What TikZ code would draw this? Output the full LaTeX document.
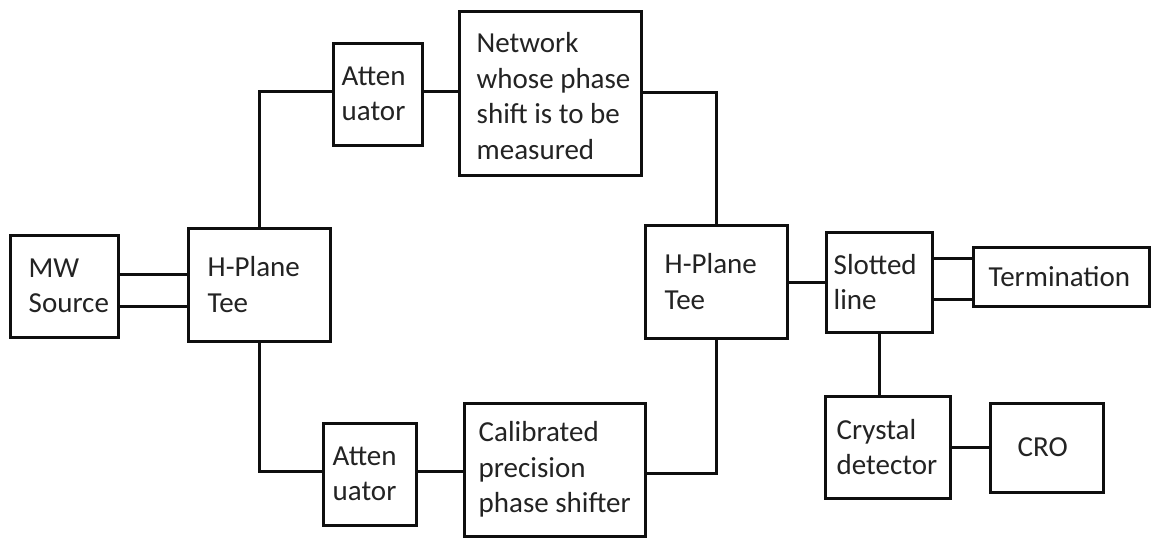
\documentclass[tikz,border=0pt]{standalone}
\usepackage{fontspec}
\setmainfont{Carlito}
\definecolor{ink}{RGB}{15,15,15}
\definecolor{txt}{RGB}{35,35,35}
\begin{document}
\begin{tikzpicture}[x=1pt,y=-1pt,
  box/.style={draw=ink, line width=3pt, rectangle, inner sep=0pt, fill=white},
  lbl/.style={inner sep=0pt, align=left, text=txt, anchor=west,
              font=\fontsize{29}{35.5}\selectfont},
  wire/.style={draw=ink, line width=3pt}]
\useasboundingbox (0,0) rectangle (1151,538);
\fill[white] (0,0) rectangle (1151,538);

% blocks
\node[box, minimum width=108, minimum height=102] (mw)    at (64,286)     {};
\node[box, minimum width=142, minimum height=113] (ltee)  at (259,284.5)  {};
\node[box, minimum width=89,  minimum height=102] (attt)  at (377.5,94)   {};
\node[box, minimum width=182, minimum height=164] (net)   at (550,93)     {};
\node[box, minimum width=142, minimum height=113] (rtee)  at (716,281.5)  {};
\node[box, minimum width=106, minimum height=100] (slot)  at (879,282)    {};
\node[box, minimum width=176, minimum height=59]  (term)  at (1061,276.5) {};
\node[box, minimum width=125, minimum height=102] (cryst) at (887.5,447)  {};
\node[box, minimum width=113, minimum height=89]  (cro)   at (1046.5,447.5) {};
\node[box, minimum width=93,  minimum height=102] (attb)  at (369.5,474)  {};
\node[box, minimum width=181, minimum height=133] (phase) at (554.5,469.5) {};

% labels
\node[lbl] (mw-t)    at ([xshift=20]mw.west)    {MW\\Source};
\node[lbl] (ltee-t)  at ([xshift=21]ltee.west)  {H-Plane\\Tee};
\node[lbl] (attt-t)  at ([xshift=10]attt.west)  {Atten\\uator};
\node[lbl] (net-t)   at ([xshift=19,yshift=-3]net.west) {Network\\whose phase\\shift is to be\\measured};
\node[lbl] (rtee-t)  at ([xshift=21]rtee.west)  {H-Plane\\Tee};
\node[lbl] (slot-t)  at ([xshift=9]slot.west)   {Slotted\\line};
\node[lbl] (term-t)  at ([xshift=17]term.west)  {Termination};
\node[lbl] (cryst-t) at ([xshift=13]cryst.west) {Crystal\\detector};
\node[lbl] (cro-t)   at ([xshift=29]cro.west)   {CRO};
\node[lbl] (attb-t)  at ([xshift=11]attb.west)  {Atten\\uator};
\node[lbl] (phase-t) at ([xshift=16]phase.west) {Calibrated\\precision\\phase shifter};

% source to tee (two lines)
\draw[wire] (mw.east |- 0,274) -- (ltee.west |- 0,274);
\draw[wire] (mw.east |- 0,306) -- (ltee.west |- 0,306);

% upper arm
\draw[wire] (ltee.north) |- (attt.west |- 0,91);
\draw[wire] (attt.east |- 0,91) -- (net.west |- 0,91);
\draw[wire] (net.east |- 0,92) -| (rtee.north);

% lower arm
\draw[wire] (ltee.south) |- (attb.west |- 0,471);
\draw[wire] (attb.east |- 0,471) -- (phase.west |- 0,471);
\draw[wire] (phase.east |- 0,473) -| (rtee.south);

% output side
\draw[wire] (rtee.east |- 0,282) -- (slot.west |- 0,282);
\draw[wire] (slot.east |- 0,258) -- (term.west |- 0,258);
\draw[wire] (slot.east |- 0,299) -- (term.west |- 0,299);
\draw[wire] (slot.south) -- (cryst.north -| slot.south);
\draw[wire] (cryst.east |- 0,447) -- (cro.west |- 0,447);
\end{tikzpicture}
\end{document}
